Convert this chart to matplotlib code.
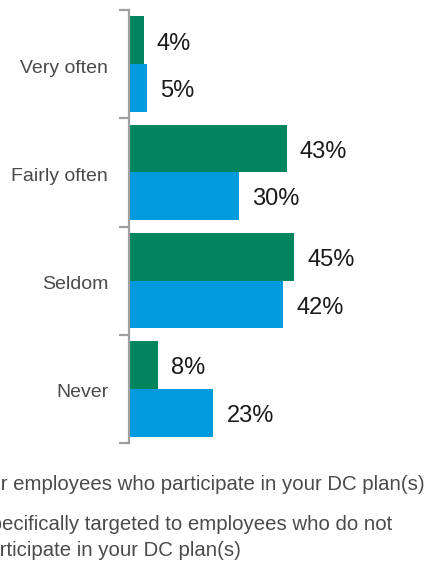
import matplotlib
matplotlib.use("Agg")
import matplotlib.pyplot as plt
from matplotlib.transforms import ScaledTranslation

categories = ["Very often", "Fairly often", "Seldom", "Never"]
participants = [4, 43, 45, 8]
non_participants = [5, 30, 42, 23]
legend_line1 = "For employees who participate in your DC plan(s)"
legend_line2 = ["Specifically targeted to employees who do not",
                "participate in your DC plan(s)"]

GREEN = "#00855F"
BLUE = "#009BDD"
SPINE = "#A0A0A0"

plt.rcParams["font.family"] = ["Liberation Sans", "DejaVu Sans"]

W, H = 427, 564
fig = plt.figure(figsize=(W / 100, H / 100), dpi=100)
ax = fig.add_axes([129 / W, 1 - 443 / H, (W - 129) / W, (443 - 10) / H])

bar_h = 0.44
ys = list(range(len(categories)))
ax.barh([y - bar_h / 2 for y in ys], participants, height=bar_h, color=GREEN)
ax.barh([y + bar_h / 2 for y in ys], non_participants, height=bar_h, color=BLUE)

ax.set_xlim(0, (W - 129) / 3.67)
ax.set_ylim(len(categories) - 0.5, -0.5)

# value labels just past the end of each bar
pad = 13 / 3.67
for y, v in zip(ys, participants):
    ax.text(v + pad, y - bar_h / 2 + 0.03, f"{v}%", va="center", ha="left",
            fontsize=17, color="#1a1a1a")
for y, v in zip(ys, non_participants):
    ax.text(v + pad, y + bar_h / 2 + 0.03, f"{v}%", va="center", ha="left",
            fontsize=17, color="#1a1a1a")

for s in ["top", "right", "bottom"]:
    ax.spines[s].set_visible(False)
ax.spines["left"].set_color(SPINE)
ax.spines["left"].set_linewidth(1.6)
ax.set_xticks([])

# boundary ticks between category bands, category names on minor ticks
ax.set_yticks([i - 0.5 for i in range(len(categories) + 1)])
ax.set_yticklabels([])
ax.tick_params(axis="y", which="major", length=7, width=1.6, color=SPINE)
ax.set_yticks(ys, minor=True)
ax.set_yticklabels(categories, minor=True, fontsize=14, color="#4a4a4a")
ax.tick_params(axis="y", which="minor", length=0, pad=15)
nudge = ScaledTranslation(0, -2 / 100, fig.dpi_scale_trans)
for lbl in ax.get_yticklabels(minor=True):
    lbl.set_transform(lbl.get_transform() + nudge)

# legend text running off the left edge
x0 = -23 / W
fs = 14.7
fig.text(x0, 1 - 484 / H, legend_line1, ha="left", va="center",
         fontsize=fs, color="#4a4a4a")
fig.text(x0, 1 - 525 / H, legend_line2[0], ha="left", va="center",
         fontsize=fs, color="#4a4a4a")
fig.text(x0, 1 - 550 / H, legend_line2[1], ha="left", va="center",
         fontsize=fs, color="#4a4a4a")

fig.savefig("out.png", dpi=100)
